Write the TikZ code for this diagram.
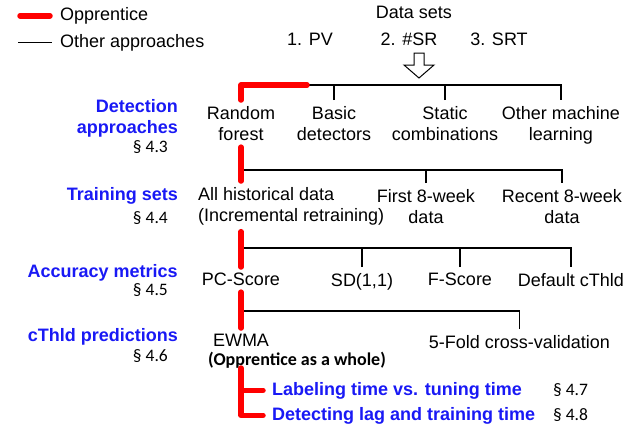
\documentclass[tikz,border=0pt]{standalone}
\usepackage{fontspec}
\setmainfont{Liberation Sans}
\newfontfamily\calfont{Carlito}
\definecolor{oppred}{RGB}{255,0,0}
\definecolor{headblue}{RGB}{25,25,245}
\tikzset{
  opp/.style={draw=oppred, line width=5.5pt, line cap=round, line join=round},
  other/.style={draw=black, line width=1.2pt},
  legend/.style={font=\fontsize{18}{21.5}\selectfont, inner sep=0pt},
  item/.style={font=\fontsize{18}{21.5}\selectfont, align=center, inner xsep=0pt, inner ysep=6pt},
  head/.style={font=\fontsize{18}{21.5}\selectfont\bfseries, text=headblue, align=right, inner sep=0pt},
  secref/.style={font=\calfont\fontsize{17.5}{20}\selectfont, inner sep=0pt},
  result/.style={font=\fontsize{18}{21.5}\selectfont\bfseries, text=headblue, inner xsep=9pt, inner ysep=0pt},
}
\begin{document}
\begin{tikzpicture}[x=1pt,y=-1pt]
\useasboundingbox (0,0) rectangle (641,426);

% legend
\node[legend, anchor=base west] (lgopp) at (60,20.5) {Opprentice};
\node[legend, anchor=base west] (lgoth) at (60,47.5) {Other approaches};
\draw[opp] ([xshift=-40pt]lgopp.west) -- ([xshift=-10pt]lgopp.west);
\draw[other] ([xshift=-42pt]lgoth.west) -- ([xshift=-8pt]lgoth.west);

% data sets and the big arrow
\node[legend, anchor=base] (ds) at (414,18.5) {Data sets};
\foreach \n/\x/\texto in {pv/310/{1. PV},sr/409/{2. \#SR},srt/499/{3. SRT}}
\node[legend, anchor=base] (\n) at (\x,45) {\texto};
\draw[other, line width=1pt, fill=white] (414,53) -- (424,53) -- (424,65) -- (434,65)
  -- (419,78) -- (404,65) -- (414,65) -- cycle;

% section headings on the left
\node[head, anchor=north east] (hdet) at (178,99.2) {Detection\\approaches};
\node[head, anchor=base east] (htrain) at (178,200) {Training sets};
\node[head, anchor=base east] (hacc) at (178,277.7) {Accuracy metrics};
\node[head, anchor=base east] (hcth) at (178,341.7) {cThld predictions};
\foreach \n/\y/\texto in {s43/152.7/{§ 4.3},s44/223.3/{§ 4.4},s45/295/{§ 4.5},s46/361.7/{§ 4.6}}
\node[secref, anchor=base east] (\n) at (168,\y) {\texto};

% level 1: detection approaches
\foreach \n/\x/\texto in {rf/241/{Random\\forest},bd/334/{Basic\\detectors},sc/445/{Static\\combinations},ml/561/{Other machine\\learning}}
\node[item, anchor=north] (\n) at (\x,100) {\texto};
\coordinate (bus1) at (241,85);
\coordinate (fork1) at (307,85);
\draw[other] (fork1) -- (ml.north |- bus1) -- (ml.north);
\foreach \n in {bd,sc} \draw[other] (\n.north) -- (\n.north |- bus1);
\draw[opp] (rf.north) -- (rf.north |- bus1) -- (fork1);

% level 2: training sets
\node[item, anchor=north west, align=left] (ahd) at (198,181) {All historical data\\(Incremental retraining)};
\node[item, anchor=north] (f8) at (426,183) {First 8-week\\data};
\node[item, anchor=north] (r8) at (562,183) {Recent 8-week\\data};
\coordinate (bus2) at (241,170);
\draw[other] (rf.south |- bus2) -- (r8.north |- bus2) -- (r8.north);
\draw[other] (f8.north) -- (f8.north |- bus2);
\draw[opp] (rf.south) -- (rf.south |- ahd.north);

% level 3: accuracy metrics
\foreach \n/\x/\texto in {pcs/241/{PC-Score},sd/362/{SD(1,1)},fs/460/{F-Score},dct/571/{Default cThld}}
\node[item, anchor=north] (\n) at (\x,267) {\texto};
\coordinate (bus3) at (241,248);
\draw[other] (pcs.north |- bus3) -- (dct.north |- bus3) -- (dct.north);
\foreach \n in {sd,fs} \draw[other] (\n.north) -- (\n.north |- bus3);
\draw[opp] (pcs.north |- ahd.south) -- (pcs.north);

% level 4: cThld predictions
\node[item, anchor=north] (ewma) at (241,328) {EWMA};
\node[item, anchor=north] (cv) at (519.5,329) {5-Fold cross-validation};
\node[secref, font=\calfont\bfseries\fontsize{18}{20}\selectfont, anchor=base west] (whole) at (208,365) {(Opprentice as a whole)};
\coordinate (bus4) at (241,311);
\draw[other] (ewma.north |- bus4) -- (cv.north |- bus4) -- (cv.north);
\draw[opp] (ewma.north |- pcs.south) -- (ewma.north);

% the two evaluations of the whole system
\node[result, anchor=base west] (lt) at (263,395) {Labeling time vs. tuning time};
\node[result, anchor=base west] (dl) at (263,420) {Detecting lag and training time};
\node[secref, anchor=base west] (s47) at (553,395) {§ 4.7};
\node[secref, anchor=base west] (s48) at (553,420) {§ 4.8};
\coordinate (sp5) at (ewma.north |- whole.south);
\draw[opp] (sp5) |- (dl.west);
\draw[opp] (sp5 |- lt.west) -- (lt.west);
\end{tikzpicture}
\end{document}
